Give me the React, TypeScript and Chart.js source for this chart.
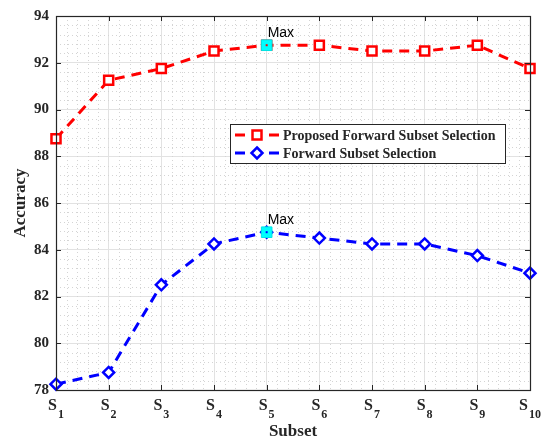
import React, { useEffect, useRef } from 'react';
import { Chart, registerables } from 'chart.js';
Chart.register(...registerables);

const subsetIndex = [1, 2, 3, 4, 5, 6, 7, 8, 9, 10];
const subsetSubscripts = ['1', '2', '3', '4', '5', '6', '7', '8', '9', '10'];
const proposedAcc = [88.75, 91.25, 91.75, 92.5, 92.75, 92.75, 92.5, 92.5, 92.75, 91.75];
const forwardAcc = [78.25, 78.75, 82.5, 84.25, 84.75, 84.5, 84.25, 84.25, 83.75, 83];
const yTickValues = [78, 80, 82, 84, 86, 88, 90, 92, 94];
const seriesNames = ['Proposed Forward Subset Selection', 'Forward Subset Selection'];
const seriesColors = ['#ff0000', '#0000ff'];
const maxLabel = 'Max';

const SERIF = '"Liberation Serif", "Times New Roman", serif';
const SANS = '"Liberation Sans", Arial, sans-serif';
const AXIS = '#262626';

function argmax(a: number[]) {
  let bi = 0;
  for (let i = 1; i < a.length; i++) if (a[i] > a[bi]) bi = i;
  return bi;
}

function drawMarker(ctx: CanvasRenderingContext2D, kind: string, x: number, y: number, color: string) {
  ctx.save();
  ctx.setLineDash([]);
  ctx.strokeStyle = color;
  ctx.fillStyle = '#ffffff';
  ctx.lineWidth = 2.5;
  ctx.beginPath();
  if (kind === 'rect') {
    ctx.rect(x - 4.5, y - 4.5, 9, 9);
  } else {
    ctx.moveTo(x, y - 5.5);
    ctx.lineTo(x + 5.5, y);
    ctx.lineTo(x, y + 5.5);
    ctx.lineTo(x - 5.5, y);
    ctx.closePath();
  }
  ctx.fill();
  ctx.stroke();
  ctx.restore();
}

const decorPlugin = {
  id: 'decor',
  beforeDatasetsDraw(chart: any) {
    const { ctx, chartArea: a, scales } = chart;
    const x = scales.x, y = scales.y;
    ctx.save();
    ctx.strokeStyle = '#d4d4d4';
    ctx.lineWidth = 1;
    ctx.setLineDash([1, 3]);
    for (let i = 1; i < 10; i++) {
      for (let k = 1; k < 5; k++) {
        const px = Math.round(x.getPixelForValue(i + k / 5)) + 0.5;
        ctx.beginPath();
        ctx.moveTo(px, a.top);
        ctx.lineTo(px, a.bottom);
        ctx.stroke();
      }
    }
    for (let v = 78; v < 94; v += 2) {
      for (let k = 1; k < 5; k++) {
        const py = Math.round(y.getPixelForValue(v + k * 0.4)) + 0.5;
        ctx.beginPath();
        ctx.moveTo(a.left, py);
        ctx.lineTo(a.right, py);
        ctx.stroke();
      }
    }
    ctx.restore();
  },
  afterDraw(chart: any) {
    const { ctx, chartArea: a, scales } = chart;
    const x = scales.x, y = scales.y;
    ctx.save();
    ctx.setLineDash([]);
    // inward tick marks
    ctx.strokeStyle = AXIS;
    ctx.lineWidth = 1;
    subsetIndex.forEach((v) => {
      const px = Math.round(x.getPixelForValue(v)) + 0.5;
      ctx.beginPath();
      ctx.moveTo(px, a.bottom);
      ctx.lineTo(px, a.bottom - 5);
      ctx.moveTo(px, a.top);
      ctx.lineTo(px, a.top + 5);
      ctx.stroke();
    });
    yTickValues.forEach((v) => {
      const py = Math.round(y.getPixelForValue(v)) + 0.5;
      ctx.beginPath();
      ctx.moveTo(a.left, py);
      ctx.lineTo(a.left + 5, py);
      ctx.moveTo(a.right, py);
      ctx.lineTo(a.right - 5, py);
      ctx.stroke();
    });
    // box
    ctx.lineWidth = 1.2;
    ctx.strokeRect(Math.round(a.left) + 0.5, Math.round(a.top) + 0.5, Math.round(a.right - a.left), Math.round(a.bottom - a.top));

    // x tick labels with subscripts
    ctx.fillStyle = AXIS;
    ctx.textBaseline = 'alphabetic';
    subsetIndex.forEach((v, i) => {
      const px = x.getPixelForValue(v);
      ctx.font = `bold 16px ${SERIF}`;
      const sw = ctx.measureText('S').width;
      ctx.font = `bold 12px ${SERIF}`;
      const dw = ctx.measureText(subsetSubscripts[i]).width;
      const start = px - (sw + 1 + dw) / 2;
      ctx.textAlign = 'left';
      ctx.font = `bold 16px ${SERIF}`;
      ctx.fillText('S', start, 410);
      ctx.font = `bold 12px ${SERIF}`;
      ctx.fillText(subsetSubscripts[i], start + sw + 1, 418);
    });

    // axis titles
    ctx.font = `bold 17px ${SERIF}`;
    ctx.textAlign = 'center';
    ctx.textBaseline = 'middle';
    ctx.fillText('Subset', (a.left + a.right) / 2, 432);
    ctx.save();
    ctx.translate(21, (a.top + a.bottom) / 2);
    ctx.rotate(-Math.PI / 2);
    ctx.fillText('Accuracy', 0, 0);
    ctx.restore();

    // Max annotations
    [0, 1].forEach((di) => {
      const el = chart.getDatasetMeta(di).data[0];
      if (!el) return;
      ctx.fillStyle = seriesColors[di];
      ctx.fillRect(el.x - 1, el.y - 1, 2, 2);
      ctx.fillStyle = '#000000';
      ctx.font = `14px ${SANS}`;
      ctx.textAlign = 'left';
      ctx.textBaseline = 'alphabetic';
      ctx.fillText(maxLabel, el.x + 1, el.y - 8);
    });

    // legend
    const lx = 230, ly = 124, lw = 275, lh = 39;
    ctx.fillStyle = '#ffffff';
    ctx.fillRect(lx, ly, lw, lh);
    ctx.strokeStyle = AXIS;
    ctx.lineWidth = 1;
    ctx.strokeRect(lx + 0.5, ly + 0.5, lw, lh);
    const rows = [135, 153];
    const kinds = ['rect', 'rectRot'];
    rows.forEach((ry, i) => {
      ctx.strokeStyle = seriesColors[i];
      ctx.lineWidth = 3;
      ctx.setLineDash([10, 7]);
      ctx.beginPath();
      ctx.moveTo(235, ry);
      ctx.lineTo(279, ry);
      ctx.stroke();
      ctx.setLineDash([]);
      drawMarker(ctx, kinds[i], 257, ry, seriesColors[i]);
      ctx.fillStyle = AXIS;
      ctx.font = `bold 14px ${SERIF}`;
      ctx.textAlign = 'left';
      ctx.textBaseline = 'middle';
      ctx.fillText(seriesNames[i], 283, ry + 1);
    });
    ctx.restore();
  },
};

export default function App() {
  const ref = useRef<HTMLCanvasElement | null>(null);
  useEffect(() => {
    if (!ref.current) return;
    const pi = argmax(proposedAcc);
    const fi = argmax(forwardAcc);
    const chart = new Chart(ref.current, {
      type: 'line',
      data: {
        datasets: [
          {
            label: 'maxP',
            data: [{ x: subsetIndex[pi], y: proposedAcc[pi] }],
            showLine: false,
            pointStyle: 'rect',
            pointRadius: 7.5,
            backgroundColor: '#00ffff',
            borderColor: '#00e5e5',
            borderWidth: 1,
            clip: false,
            order: 0,
          },
          {
            label: 'maxF',
            data: [{ x: subsetIndex[fi], y: forwardAcc[fi] }],
            showLine: false,
            pointStyle: 'rect',
            pointRadius: 7.5,
            backgroundColor: '#00ffff',
            borderColor: '#00e5e5',
            borderWidth: 1,
            clip: false,
            order: 0,
          },
          {
            label: seriesNames[0],
            data: subsetIndex.map((s, i) => ({ x: s, y: proposedAcc[i] })),
            borderColor: seriesColors[0],
            borderWidth: 3,
            borderDash: [10, 7],
            pointStyle: 'rect',
            pointRadius: 6.4,
            pointBorderWidth: 2.5,
            pointBorderColor: seriesColors[0],
            pointBackgroundColor: '#ffffff',
            tension: 0,
            clip: false,
            order: 1,
          },
          {
            label: seriesNames[1],
            data: subsetIndex.map((s, i) => ({ x: s, y: forwardAcc[i] })),
            borderColor: seriesColors[1],
            borderWidth: 3,
            borderDash: [10, 7],
            pointStyle: 'rectRot',
            pointRadius: 5.5,
            pointBorderWidth: 2.5,
            pointBorderColor: seriesColors[1],
            pointBackgroundColor: '#ffffff',
            tension: 0,
            clip: false,
            order: 1,
          },
        ],
      },
      options: {
        responsive: false,
        animation: false,
        layout: { padding: { top: 16, right: 15, left: 0, bottom: 0 } },
        plugins: { legend: { display: false }, tooltip: { enabled: false } },
        scales: {
          x: {
            type: 'linear',
            min: 1,
            max: 10,
            afterBuildTicks: (scale: any) => {
              scale.ticks = subsetIndex.map((v) => ({ value: v }));
            },
            afterFit: (scale: any) => {
              scale.height = 51;
            },
            ticks: { display: false },
            grid: { color: '#e2e2e2', lineWidth: 1, drawTicks: false },
            border: { display: false },
          },
          y: {
            type: 'linear',
            min: 78,
            max: 94,
            afterBuildTicks: (scale: any) => {
              scale.ticks = yTickValues.map((v) => ({ value: v }));
            },
            afterFit: (scale: any) => {
              scale.width = 56;
            },
            ticks: {
              padding: 7,
              color: AXIS,
              font: { family: SERIF, size: 15, weight: 'bold' },
            },
            grid: { color: '#e2e2e2', lineWidth: 1, drawTicks: false },
            border: { display: false },
          },
        },
      },
      plugins: [decorPlugin],
    } as any);
    return () => chart.destroy();
  }, []);
  return (
    <div style={{ position: 'absolute', left: 0, top: 0, width: 545, height: 441, background: '#fff' }}>
      <canvas ref={ref} width={545} height={441} />
    </div>
  );
}
